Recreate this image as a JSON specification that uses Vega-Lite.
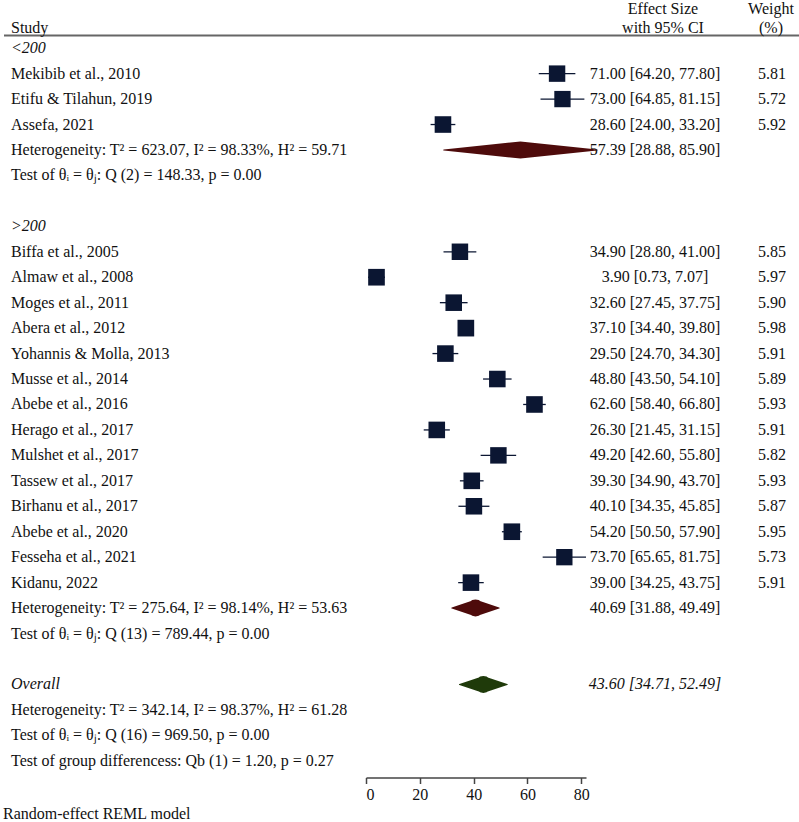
{
  "$schema": "https://vega.github.io/schema/vega-lite/v6.json",
  "padding": {"left": 3, "top": 0, "right": 0, "bottom": 0},
  "bounds": "flush",
  "spacing": 0,
  "title": {"text": "Random-effect REML model", "orient": "bottom", "anchor": "start", "fontSize": 16, "fontWeight": "normal", "font": "Liberation Serif", "color": "#111", "offset": 3},
  "config": {
    "font": "Liberation Serif",
    "view": {"stroke": null},
    "text": {"fontSize": 16, "color": "#111"}
  },
  "resolve": {"scale": {"y": "shared"}},
  "datasets": {
    "rows": [
      {"row": 0, "label": "Study", "kind": "header"},
      {"row": 1, "label": "<200", "kind": "group"},
      {"row": 2, "label": "Mekibib et al., 2010", "kind": "study", "sec": "<200", "es": 71.00, "lo": 64.20, "hi": 77.80, "w": 5.81, "ci": "71.00 [64.20, 77.80]"},
      {"row": 3, "label": "Etifu & Tilahun, 2019", "kind": "study", "sec": "<200", "es": 73.00, "lo": 64.85, "hi": 81.15, "w": 5.72, "ci": "73.00 [64.85, 81.15]"},
      {"row": 4, "label": "Assefa, 2021", "kind": "study", "sec": "<200", "es": 28.60, "lo": 24.00, "hi": 33.20, "w": 5.92, "ci": "28.60 [24.00, 33.20]"},
      {"row": 5, "label": "Heterogeneity: T² = 623.07, I² = 98.33%, H² = 59.71", "kind": "het", "sec": "<200", "es": 57.39, "lo": 28.88, "hi": 85.90, "ci": "57.39 [28.88, 85.90]"},
      {"row": 6, "label": "Test of θᵢ = θⱼ: Q (2) = 148.33, p = 0.00", "kind": "test"},
      {"row": 7, "label": "", "kind": "blank"},
      {"row": 8, "label": ">200", "kind": "group"},
      {"row": 9, "label": "Biffa et al., 2005", "kind": "study", "sec": ">200", "es": 34.90, "lo": 28.80, "hi": 41.00, "w": 5.85, "ci": "34.90 [28.80, 41.00]"},
      {"row": 10, "label": "Almaw et al., 2008", "kind": "study", "sec": ">200", "es": 3.90, "lo": 0.73, "hi": 7.07, "w": 5.97, "ci": "3.90 [0.73, 7.07]"},
      {"row": 11, "label": "Moges et al., 2011", "kind": "study", "sec": ">200", "es": 32.60, "lo": 27.45, "hi": 37.75, "w": 5.90, "ci": "32.60 [27.45, 37.75]"},
      {"row": 12, "label": "Abera et al., 2012", "kind": "study", "sec": ">200", "es": 37.10, "lo": 34.40, "hi": 39.80, "w": 5.98, "ci": "37.10 [34.40, 39.80]"},
      {"row": 13, "label": "Yohannis & Molla, 2013", "kind": "study", "sec": ">200", "es": 29.50, "lo": 24.70, "hi": 34.30, "w": 5.91, "ci": "29.50 [24.70, 34.30]"},
      {"row": 14, "label": "Musse et al., 2014", "kind": "study", "sec": ">200", "es": 48.80, "lo": 43.50, "hi": 54.10, "w": 5.89, "ci": "48.80 [43.50, 54.10]"},
      {"row": 15, "label": "Abebe et al., 2016", "kind": "study", "sec": ">200", "es": 62.60, "lo": 58.40, "hi": 66.80, "w": 5.93, "ci": "62.60 [58.40, 66.80]"},
      {"row": 16, "label": "Herago et al., 2017", "kind": "study", "sec": ">200", "es": 26.30, "lo": 21.45, "hi": 31.15, "w": 5.91, "ci": "26.30 [21.45, 31.15]"},
      {"row": 17, "label": "Mulshet et al., 2017", "kind": "study", "sec": ">200", "es": 49.20, "lo": 42.60, "hi": 55.80, "w": 5.82, "ci": "49.20 [42.60, 55.80]"},
      {"row": 18, "label": "Tassew et al., 2017", "kind": "study", "sec": ">200", "es": 39.30, "lo": 34.90, "hi": 43.70, "w": 5.93, "ci": "39.30 [34.90, 43.70]"},
      {"row": 19, "label": "Birhanu et al., 2017", "kind": "study", "sec": ">200", "es": 40.10, "lo": 34.35, "hi": 45.85, "w": 5.87, "ci": "40.10 [34.35, 45.85]"},
      {"row": 20, "label": "Abebe et al., 2020", "kind": "study", "sec": ">200", "es": 54.20, "lo": 50.50, "hi": 57.90, "w": 5.95, "ci": "54.20 [50.50, 57.90]"},
      {"row": 21, "label": "Fesseha et al., 2021", "kind": "study", "sec": ">200", "es": 73.70, "lo": 65.65, "hi": 81.75, "w": 5.73, "ci": "73.70 [65.65, 81.75]"},
      {"row": 22, "label": "Kidanu, 2022", "kind": "study", "sec": ">200", "es": 39.00, "lo": 34.25, "hi": 43.75, "w": 5.91, "ci": "39.00 [34.25, 43.75]"},
      {"row": 23, "label": "Heterogeneity: T² = 275.64, I² = 98.14%, H² = 53.63", "kind": "het", "sec": ">200", "es": 40.69, "lo": 31.88, "hi": 49.49, "ci": "40.69 [31.88, 49.49]"},
      {"row": 24, "label": "Test of θᵢ = θⱼ: Q (13) = 789.44, p = 0.00", "kind": "test"},
      {"row": 25, "label": "", "kind": "blank"},
      {"row": 26, "label": "Overall", "kind": "overall", "sec": "Overall", "es": 43.60, "lo": 34.71, "hi": 52.49, "ci": "43.60 [34.71, 52.49]"},
      {"row": 27, "label": "Heterogeneity: T² = 342.14, I² = 98.37%, H² = 61.28", "kind": "het"},
      {"row": 28, "label": "Test of θᵢ = θⱼ: Q (16) = 969.50, p = 0.00", "kind": "test"},
      {"row": 29, "label": "Test of group differencess: Qb (1) = 1.20, p = 0.27", "kind": "test"}
    ]
  },
  "data": {"name": "rows"},
  "hconcat": [
    {
      "width": 362,
      "height": 763.5,
      "layer": [
        {
          "transform": [{"filter": "datum.kind == 'header'"}],
          "mark": {"type": "rule", "color": "#666", "strokeWidth": 2},
          "encoding": {"y": {"field": "row", "type": "ordinal", "bandPosition": 1, "scale": {"type": "band", "paddingInner": 0, "paddingOuter": 0}, "axis": null}}
        },
        {
          "transform": [{"filter": "datum.kind == 'header'"}],
          "mark": {"type": "text", "align": "left", "baseline": "middle", "dx": 7, "dy": 5},
          "encoding": {
            "x": {"value": 0},
            "y": {"field": "row", "type": "ordinal", "scale": {"type": "band", "paddingInner": 0, "paddingOuter": 0}, "axis": null},
            "text": {"field": "label"}
          }
        },
        {
          "transform": [{"filter": "datum.kind != 'header' && datum.kind != 'group' && datum.kind != 'overall'"}],
          "mark": {"type": "text", "align": "left", "baseline": "middle", "dx": 7},
          "encoding": {
            "x": {"value": 0},
            "y": {"field": "row", "type": "ordinal", "scale": {"type": "band", "paddingInner": 0, "paddingOuter": 0}, "axis": null},
            "text": {"field": "label"}
          }
        },
        {
          "transform": [{"filter": "datum.kind == 'group' || datum.kind == 'overall'"}],
          "mark": {"type": "text", "align": "left", "baseline": "middle", "dx": 7, "fontStyle": "italic"},
          "encoding": {
            "x": {"value": 0},
            "y": {"field": "row", "type": "ordinal", "scale": {"type": "band", "paddingInner": 0, "paddingOuter": 0}, "axis": null},
            "text": {"field": "label"}
          }
        }
      ]
    },
    {
      "width": 220,
      "height": 763.5,
      "layer": [
        {
          "transform": [{"filter": "datum.kind == 'header'"}],
          "mark": {"type": "rule", "color": "#666", "strokeWidth": 2},
          "encoding": {"y": {"field": "row", "type": "ordinal", "bandPosition": 1, "scale": {"type": "band", "paddingInner": 0, "paddingOuter": 0}, "axis": null}}
        },
        {
          "transform": [{"filter": "datum.kind == 'study'"}],
          "mark": {"type": "rule", "color": "#0b1632", "strokeWidth": 1.3},
          "encoding": {
            "x": {"field": "lo", "type": "quantitative", "scale": {"domain": [0, 81.75], "nice": false, "zero": false}, "axis": {"values": [0, 20, 40, 60, 80], "title": null, "grid": false, "domainColor": "#444", "domainWidth": 1.5, "tickColor": "#444", "tickWidth": 1.5, "tickSize": 6, "labelFontSize": 16, "labelColor": "#111", "labelPadding": 3, "offset": 4, "labelFont": "Liberation Serif"}},
            "x2": {"field": "hi"},
            "y": {"field": "row", "type": "ordinal", "scale": {"type": "band", "paddingInner": 0, "paddingOuter": 0}, "axis": null}
          }
        },
        {
          "transform": [{"filter": "datum.kind == 'study'"}],
          "mark": {"type": "point", "shape": "square", "filled": true, "opacity": 1, "color": "#0b1632"},
          "encoding": {
            "x": {"field": "es", "type": "quantitative", "scale": {"domain": [0, 81.75], "nice": false, "zero": false}, "axis": {"values": [0, 20, 40, 60, 80], "title": null, "grid": false, "domainColor": "#444", "domainWidth": 1.5, "tickColor": "#444", "tickWidth": 1.5, "tickSize": 6, "labelFontSize": 16, "labelColor": "#111", "labelPadding": 3, "offset": 4, "labelFont": "Liberation Serif"}},
            "y": {"field": "row", "type": "ordinal", "scale": {"type": "band", "paddingInner": 0, "paddingOuter": 0}, "axis": null},
            "size": {"field": "w", "type": "quantitative", "scale": {"domain": [0, 6], "range": [0, 279]}, "legend": null}
          }
        },
        {
          "transform": [
            {"filter": "isValid(datum.lo) && datum.kind != 'study'"},
            {"fold": ["lo", "es", "hi"], "as": ["pt", "v"]}
          ],
          "mark": {"type": "trail", "opacity": 1},
          "encoding": {
            "x": {"field": "v", "type": "quantitative", "scale": {"domain": [0, 81.75], "nice": false, "zero": false}, "axis": {"values": [0, 20, 40, 60, 80], "title": null, "grid": false, "domainColor": "#444", "domainWidth": 1.5, "tickColor": "#444", "tickWidth": 1.5, "tickSize": 6, "labelFontSize": 16, "labelColor": "#111", "labelPadding": 3, "offset": 4, "labelFont": "Liberation Serif"}},
            "y": {"field": "row", "type": "ordinal", "scale": {"type": "band", "paddingInner": 0, "paddingOuter": 0}, "axis": null},
            "detail": {"field": "row"},
            "order": {"field": "v", "type": "quantitative"},
            "size": {"field": "pt", "type": "ordinal", "scale": {"type": "ordinal", "domain": ["lo", "es", "hi"], "range": [0, 17, 0]}, "legend": null},
            "color": {"field": "sec", "type": "nominal", "scale": {"domain": ["<200", ">200", "Overall"], "range": ["#4e0b0b", "#4e0b0b", "#1f3a0a"]}, "legend": null}
          }
        }
      ]
    },
    {
      "width": 138,
      "height": 763.5,
      "layer": [
        {
          "transform": [{"filter": "datum.kind == 'header'"}],
          "mark": {"type": "rule", "color": "#666", "strokeWidth": 2},
          "encoding": {"y": {"field": "row", "type": "ordinal", "bandPosition": 1, "scale": {"type": "band", "paddingInner": 0, "paddingOuter": 0}, "axis": null}}
        },
        {
          "transform": [{"filter": "datum.kind == 'header'"}],
          "mark": {"type": "text", "align": "center", "baseline": "middle", "dx": 8, "dy": -14, "lineHeight": 19},
          "encoding": {
            "y": {"field": "row", "type": "ordinal", "scale": {"type": "band", "paddingInner": 0, "paddingOuter": 0}, "axis": null},
            "text": {"value": ["Effect Size", "with 95% CI"]}
          }
        },
        {
          "transform": [{"filter": "isValid(datum.ci) && datum.kind != 'overall'"}],
          "mark": {"type": "text", "align": "center", "baseline": "middle"},
          "encoding": {
            "y": {"field": "row", "type": "ordinal", "scale": {"type": "band", "paddingInner": 0, "paddingOuter": 0}, "axis": null},
            "text": {"field": "ci"}
          }
        },
        {
          "transform": [{"filter": "datum.kind == 'overall'"}],
          "mark": {"type": "text", "align": "center", "baseline": "middle", "fontStyle": "italic"},
          "encoding": {
            "y": {"field": "row", "type": "ordinal", "scale": {"type": "band", "paddingInner": 0, "paddingOuter": 0}, "axis": null},
            "text": {"field": "ci"}
          }
        }
      ]
    },
    {
      "width": 76,
      "height": 763.5,
      "layer": [
        {
          "transform": [{"filter": "datum.kind == 'header'"}],
          "mark": {"type": "rule", "color": "#666", "strokeWidth": 2},
          "encoding": {"y": {"field": "row", "type": "ordinal", "bandPosition": 1, "scale": {"type": "band", "paddingInner": 0, "paddingOuter": 0}, "axis": null}}
        },
        {
          "transform": [{"filter": "datum.kind == 'header'"}],
          "mark": {"type": "text", "align": "center", "baseline": "middle", "dx": 9, "dy": -14, "lineHeight": 19},
          "encoding": {
            "y": {"field": "row", "type": "ordinal", "scale": {"type": "band", "paddingInner": 0, "paddingOuter": 0}, "axis": null},
            "text": {"value": ["Weight", "(%)"]}
          }
        },
        {
          "transform": [{"filter": "datum.kind == 'study'"}],
          "mark": {"type": "text", "align": "center", "baseline": "middle", "dx": 10},
          "encoding": {
            "y": {"field": "row", "type": "ordinal", "scale": {"type": "band", "paddingInner": 0, "paddingOuter": 0}, "axis": null},
            "text": {"field": "w", "type": "quantitative", "format": ".2f"}
          }
        }
      ]
    }
  ]
}
